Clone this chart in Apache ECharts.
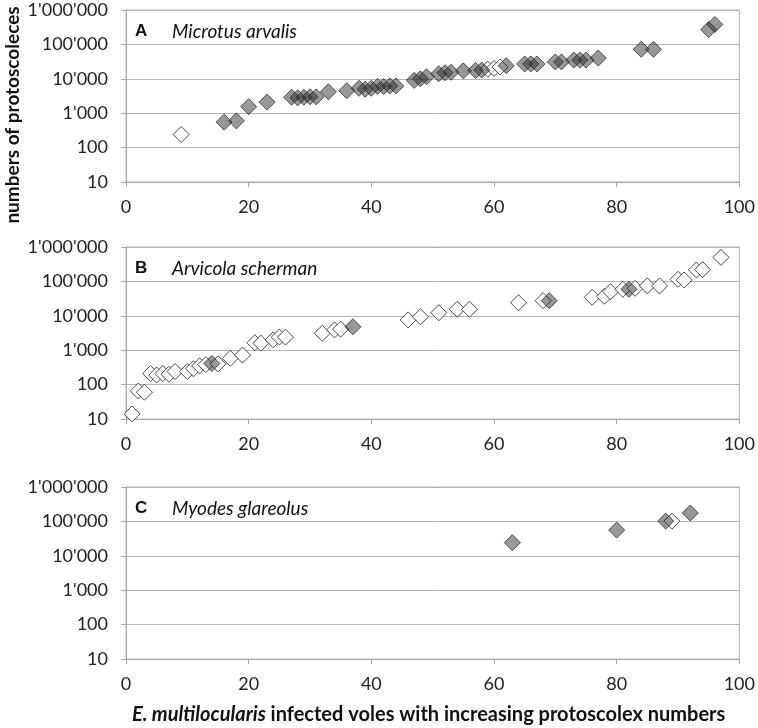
<!DOCTYPE html>
<html>
<head>
<meta charset="utf-8">
<title></title>
<script src="https://cdn.jsdelivr.net/npm/echarts@6/dist/echarts.min.js"></script>
<style>
  html, body { margin: 0; padding: 0; background: #fff; }
  #main { width: 758px; height: 728px; }
</style>
</head>
<body>
<div id="main"></div>
<script type="text/javascript">
// panel A - Microtus arvalis
var aWhite = [[9, 240], [59, 19000], [60, 20000], [61, 22000]];
var aGray = [[16, 550], [18, 600], [20, 1550], [23, 2100], [27, 2900], [28, 2800], [29, 2900],
  [30, 3000], [31, 3000], [33, 4200], [36, 4500], [38, 5300], [39, 5000], [40, 5300], [41, 6000],
  [42, 6000], [43, 6200], [44, 6200], [47, 9000], [48, 10000], [49, 11500], [51, 14000],
  [52, 15000], [53, 15500], [55, 17000], [57, 17500], [58, 18000], [62, 24000], [65, 27000],
  [66, 27000], [67, 27000], [70, 31000], [71, 31000], [73, 35000], [74, 35000], [75, 35000],
  [77, 40000], [84, 72000], [86, 72000], [95, 270000], [96, 380000]];
// panel B - Arvicola scherman
var bWhite = [[1, 14], [2, 65], [3, 60], [4, 210], [5, 190], [6, 210], [7, 200], [8, 240],
  [10, 240], [11, 290], [12, 350], [13, 380], [15, 400], [17, 580], [19, 720], [21, 1650],
  [22, 1600], [24, 2000], [25, 2400], [26, 2400], [32, 3100], [34, 3900], [35, 4100],
  [46, 7600], [48, 9400], [51, 12300], [54, 15500], [56, 15500], [64, 24000], [68, 27500],
  [76, 34500], [78, 37000], [79, 50000], [81, 59000], [83, 63000], [85, 74000], [87, 74000],
  [90, 115000], [91, 110000], [93, 215000], [94, 220000], [97, 500000]];
var bGray = [[14, 410], [37, 4800], [69, 27500], [82, 59000]];
// panel C - Myodes glareolus
var cWhite = [[89, 102000]];
var cGray = [[63, 24000], [80, 56000], [88, 102000], [92, 175000]];

var panelLetters = ['A', 'B', 'C'];
var species = ['Microtus arvalis', 'Arvicola scherman', 'Myodes glareolus'];
var xTicks = [0, 20, 40, 60, 80, 100];
var yMin = 10, yMax = 1000000;

var myChart = echarts.init(document.getElementById('main'));
var FONT = 'Lato';

function fmt(v) {
  return String(Math.round(v)).replace(/\B(?=(\d{3})+(?!\d))/g, "'");
}

var tops = [10, 247, 487];
var grids = [], xAxes = [], yAxes = [], titles = [];
tops.forEach(function (t, i) {
  grids.push({ left: 126, right: 18, top: t, height: 172, show: true, borderColor: '#b4b4b4', borderWidth: 1 });
  xAxes.push({
    type: 'value', gridIndex: i, min: xTicks[0], max: xTicks[xTicks.length - 1], interval: 20,
    axisLine: { lineStyle: { color: '#a6a6a6' } },
    axisTick: { show: true, length: 5, lineStyle: { color: '#a6a6a6' } },
    splitLine: { show: false },
    axisLabel: { margin: 16, color: '#222', fontFamily: FONT, fontSize: 18 }
  });
  yAxes.push({
    type: 'log', logBase: 10, gridIndex: i, min: yMin, max: yMax,
    axisLine: { show: true, lineStyle: { color: '#a6a6a6' } },
    axisTick: { show: true, length: 5, lineStyle: { color: '#a6a6a6' } },
    splitLine: { show: true, lineStyle: { color: '#b4b4b4' } },
    minorTick: { show: false },
    axisLabel: { margin: 18, color: '#222', fontFamily: FONT, fontSize: 18, formatter: fmt }
  });
  titles.push({
    text: '{l|' + panelLetters[i] + '}{s|' + species[i] + '}',
    left: 130, top: t + 7,
    textStyle: {
      rich: {
        l: { fontFamily: 'Liberation Sans', fontWeight: 'bold', fontSize: 17, color: '#111', width: 37 },
        s: { fontFamily: FONT, fontStyle: 'italic', fontWeight: 'normal', fontSize: 19, color: '#111' }
      }
    }
  });
});

titles.push({
  text: '{i|E. multilocularis}{n| infected voles with increasing protoscolex numbers}',
  left: 127, top: 700,
  textStyle: {
    rich: {
      i: { fontFamily: FONT, fontWeight: 'bold', fontStyle: 'italic', fontSize: 20, color: '#111' },
      n: { fontFamily: FONT, fontWeight: 'bold', fontSize: 20, color: '#111' }
    }
  }
});

var whiteStyle = { color: '#ffffff', borderColor: '#1e1e1e', borderWidth: 1 };
var grayStyle = { color: 'rgba(40,40,40,0.6)', borderColor: '#2e2e2e', borderWidth: 1 };

function sc(data, idx, style) {
  return {
    type: 'scatter', xAxisIndex: idx, yAxisIndex: idx, data: data,
    symbol: 'diamond', symbolSize: 16, itemStyle: style, silent: true, animation: false
  };
}

var option = {
  backgroundColor: '#fff',
  animation: false,
  title: titles,
  grid: grids,
  xAxis: xAxes,
  yAxis: yAxes,
  graphic: [{
    type: 'text', x: 13, y: 115, rotation: Math.PI / 2,
    style: {
      text: 'numbers of protoscoleces', fill: '#111',
      font: 'bold 19px Lato', align: 'center', verticalAlign: 'middle'
    }
  }],
  series: [
    sc(aWhite, 0, whiteStyle), sc(aGray, 0, grayStyle),
    sc(bWhite, 1, whiteStyle), sc(bGray, 1, grayStyle),
    sc(cWhite, 2, whiteStyle), sc(cGray, 2, grayStyle)
  ]
};
myChart.setOption(option);
</script>
</body>
</html>
